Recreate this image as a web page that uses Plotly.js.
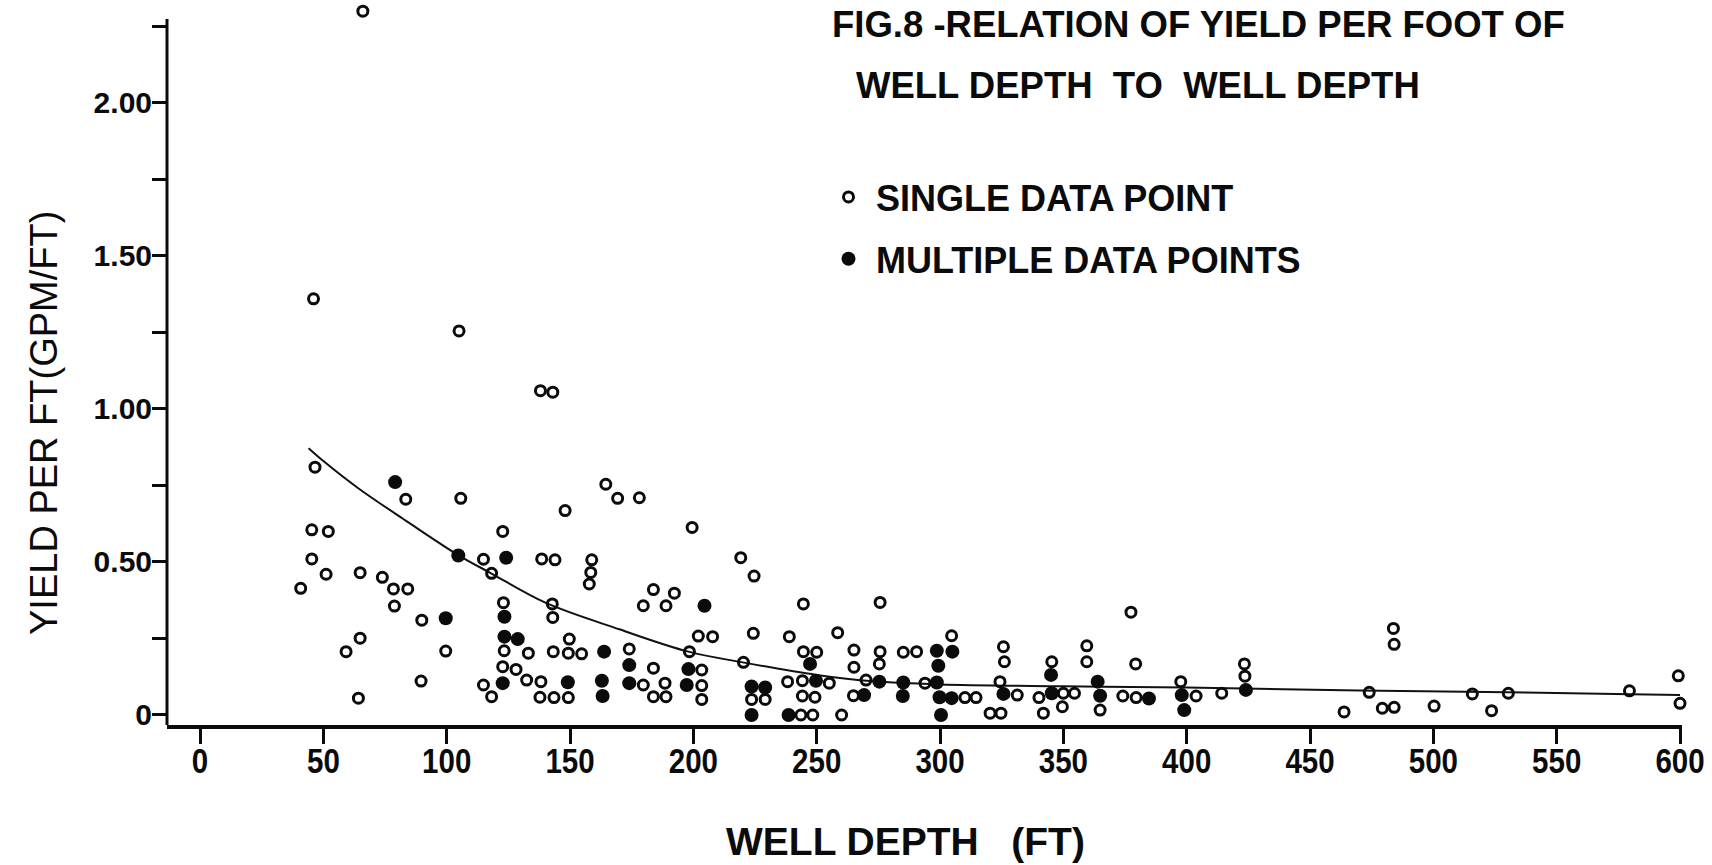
<!DOCTYPE html>
<html>
<head>
<meta charset="utf-8">
<script src="https://cdn.plot.ly/plotly-3.0.1.min.js"></script>
<style>
  html, body { margin: 0; padding: 0; background: #ffffff; }
  #chart { width: 1712px; height: 865px; }
</style>
</head>
<body>
<div id="chart"></div>
<script>
// Wells represented by a single data point: depth (ft) and yield per foot (gpm/ft)
const singleDepth = [
  66, 46, 105, 138, 143,
  46.6, 83.4, 105.7, 45.3, 52, 122.7, 45.3, 51.1, 40.8, 64.9, 73.9, 78.4, 84.2, 78.8, 89.9,
  99.6, 64.9, 59.2, 64.2, 89.6, 114.9, 118.2, 123, 123.3, 133.1, 122.7, 128.1, 132.4, 138.2,
  114.9, 118.2, 137.8, 143.5, 138.5, 143.9, 142.8, 143, 143.2,
  148, 164.5, 169.3, 178.1, 199.5, 158.8, 158.4, 157.8, 183.8, 192.3, 179.7, 188.9, 219.2,
  224.6, 244.6, 275.7, 202, 207.8, 224.3, 238.9, 258.5, 304.7, 149.7, 149.3, 154.7, 174,
  183.8, 203.4, 198.4, 220.3, 244.6, 250, 265.1, 265.1, 275.7, 275.4, 285.1, 290.5, 149.3,
  179.7, 188.5, 183.8, 188.9, 203.4, 203.4, 223.6, 229.1, 238.2, 244.2, 244.2, 249.3, 243.6,
  248.4, 260.1, 255.1, 270, 264.9, 293.9,
  325.7, 326.1, 345.3, 359.5, 359.5, 377.4, 379.3, 397.6, 423.4, 423.6, 324.3, 331.3, 310.1,
  314.6, 320.3, 324.7, 340.1, 341.9, 349.6, 350, 354.5, 364.9, 374.1, 379.5, 403.8, 414.2, 463.8,
  483.8, 484.1, 474, 479.3, 484.1, 500.3, 515.8, 523.6, 530.4, 579.5, 599.3, 600
];
const singleYield = [
  2.30, 1.36, 1.255, 1.06, 1.055,
  0.81, 0.705, 0.708, 0.605, 0.60, 0.60, 0.51, 0.46, 0.414, 0.465, 0.45, 0.412, 0.412, 0.356, 0.31,
  0.209, 0.251, 0.207, 0.055, 0.111, 0.509, 0.463, 0.367, 0.21, 0.202, 0.158, 0.149, 0.114, 0.109,
  0.098, 0.06, 0.058, 0.057, 0.51, 0.507, 0.363, 0.319, 0.207,
  0.668, 0.754, 0.708, 0.71, 0.613, 0.507, 0.466, 0.428, 0.41, 0.398, 0.357, 0.357, 0.514,
  0.454, 0.363, 0.368, 0.258, 0.256, 0.267, 0.256, 0.269, 0.259, 0.248, 0.202, 0.20, 0.216,
  0.153, 0.147, 0.207, 0.172, 0.207, 0.205, 0.212, 0.156, 0.207, 0.167, 0.205, 0.207, 0.057,
  0.098, 0.104, 0.06, 0.06, 0.096, 0.051, 0.051, 0.051, 0.109, 0.112, 0.062, 0.058, 0.0,
  0.0, 0.0, 0.104, 0.114, 0.063, 0.104,
  0.223, 0.174, 0.174, 0.226, 0.174, 0.336, 0.167, 0.109, 0.167, 0.127, 0.109, 0.065, 0.057,
  0.057, 0.006, 0.006, 0.057, 0.006, 0.027, 0.071, 0.071, 0.016, 0.062, 0.057, 0.062, 0.071, 0.01,
  0.283, 0.231, 0.074, 0.022, 0.025, 0.029, 0.069, 0.014, 0.071, 0.079, 0.128, 0.038
];

// Wells represented by multiple data points
const multiDepth = [
  79.1, 104.7, 124.1, 99.6, 123.4, 123.4, 128.8, 122.7,
  204.5, 163.8, 174, 149.1, 162.9, 163.2, 174, 198, 197.3, 223.6, 229.1, 223.6, 238.6, 247.3,
  249.7, 269.2, 275.4, 285.1, 284.9, 298.7, 305, 299.3, 298.7, 299.8, 304.7, 300.4,
  325.7, 345, 345.3, 363.9, 364.9, 384.7, 398, 399, 424
];
const multiYield = [
  0.761, 0.521, 0.514, 0.316, 0.321, 0.256, 0.248, 0.104,
  0.357, 0.207, 0.163, 0.107, 0.112, 0.062, 0.104, 0.15, 0.098, 0.093, 0.09, 0.0, 0.0, 0.167,
  0.112, 0.065, 0.109, 0.106, 0.062, 0.21, 0.207, 0.161, 0.106, 0.058, 0.055, 0.0,
  0.069, 0.131, 0.071, 0.109, 0.063, 0.054, 0.065, 0.016, 0.082
];

// Fitted relation curve, read along its length
const curveDepth = [44, 50, 64, 84, 105, 118, 140, 170, 198, 220, 250, 273, 300, 350, 400, 470, 530, 580, 600];
const curveYield = [0.872, 0.83, 0.742, 0.632, 0.521, 0.463, 0.367, 0.28, 0.207, 0.172, 0.131, 0.11, 0.10, 0.094, 0.09, 0.08, 0.074, 0.068, 0.065];

// Axis ticks
const xTickVals = [0, 50, 100, 150, 200, 250, 300, 350, 400, 450, 500, 550, 600];
const xTickText = ['0', '50', '100', '150', '200', '250', '300', '350', '400', '450', '500', '550', '600'];
const yTickVals = [0, 0.25, 0.5, 0.75, 1.0, 1.25, 1.5, 1.75, 2.0, 2.25];
const yTickText = ['0', '', '0.50', '', '1.00', '', '1.50', '', '2.00', ''];

// Drawn extent of the vertical axis line
const yAxisBottom = -0.0327;
const yAxisTop = 2.2745;

const BOLD = 'Liberation Sans, Arial, Helvetica, sans-serif';
const NB = '\u00a0';
const INK = '#0b0b0b';

const traces = [
  {
    x: curveDepth, y: curveYield,
    mode: 'lines', type: 'scatter',
    line: { color: '#111', width: 2, shape: 'spline', smoothing: 1 },
    showlegend: false, hoverinfo: 'skip'
  },
  {
    x: singleDepth, y: singleYield,
    name: 'SINGLE DATA POINT',
    mode: 'markers', type: 'scatter',
    legendgroup: 'single',
    cliponaxis: false,
    marker: { symbol: 'circle-open', size: 10, color: INK, line: { width: 3, color: INK } }
  },
  {
    x: multiDepth, y: multiYield,
    name: 'MULTIPLE DATA POINTS',
    mode: 'markers', type: 'scatter',
    legendgroup: 'multi',
    cliponaxis: false,
    marker: { symbol: 'circle', size: 14, color: INK, line: { width: 0 } }
  }
];

const layout = {
  width: 1712, height: 865,
  paper_bgcolor: '#ffffff', plot_bgcolor: '#ffffff',
  margin: { l: 167, r: 30, t: 5, b: 140, pad: 0 },
  showlegend: true,
  title: {
    text: 'FIG.8 -RELATION OF YIELD PER FOOT OF',
    font: { family: BOLD, size: 36.5, weight: 700, color: INK },
    xref: 'container', yref: 'container',
    x: 832 / 1712, xanchor: 'left',
    y: 1 - 24 / 865, yanchor: 'middle'
  },
  legend: {
    x: (821 - 167) / 1515, xanchor: 'left',
    y: (725 - 167) / 720, yanchor: 'top',
    bgcolor: 'rgba(0,0,0,0)', borderwidth: 0,
    font: { family: BOLD, size: 36, weight: 700, color: INK },
    tracegroupgap: 12,
    itemwidth: 45,
    itemsizing: 'trace'
  },
  xaxis: {
    range: [-13.4, 600.8],
    showgrid: false, zeroline: false,
    showline: true, linecolor: INK, linewidth: 4,
    ticks: 'outside', ticklen: 15, tickwidth: 3, tickcolor: INK,
    tickmode: 'array', tickvals: xTickVals, ticktext: xTickText,
    tickfont: { family: BOLD, size: 36, weight: 700, color: INK },
    ticklabeloverflow: 'allow',
    ticklabelstandoff: -14,
    automargin: false, fixedrange: true
  },
  yaxis: {
    range: [yAxisBottom, 2.3202],
    showgrid: false, zeroline: false,
    showline: false,
    ticks: 'outside', ticklen: 14, tickwidth: 3, tickcolor: INK,
    tickmode: 'array', tickvals: yTickVals, ticktext: yTickText,
    tickfont: { family: BOLD, size: 30, weight: 700, color: INK },
    ticklabelstandoff: -6,
    automargin: false, fixedrange: true
  },
  shapes: [
    {
      type: 'line', xref: 'paper', yref: 'y',
      x0: 0, x1: 0, y0: yAxisBottom, y1: yAxisTop,
      line: { color: INK, width: 3 }
    }
  ],
  annotations: [
    {
      text: 'WELL DEPTH' + NB + NB + 'TO' + NB + NB + 'WELL DEPTH',
      xref: 'paper', yref: 'paper',
      x: (854 - 167) / 1515, xanchor: 'left',
      y: (725 - 85) / 720, yanchor: 'middle',
      showarrow: false,
      font: { family: BOLD, size: 36.5, weight: 700, color: INK }
    },
    {
      // horizontal axis title
      text: 'WELL DEPTH' + NB + NB + NB + '(FT)',
      xref: 'paper', yref: 'paper',
      x: (905 - 167) / 1515, xanchor: 'center',
      y: (725 - 841) / 720, yanchor: 'middle',
      showarrow: false,
      font: { family: BOLD, size: 39, weight: 700, color: INK }
    },
    {
      // vertical axis title
      text: 'YIELD PER FT(GPM/FT)',
      xref: 'paper', yref: 'paper',
      x: (44 - 167) / 1515, xanchor: 'center',
      y: (725 - 423) / 720, yanchor: 'middle',
      textangle: -90,
      showarrow: false,
      font: { family: BOLD, size: 38, color: INK }
    }
  ]
};

Plotly.newPlot('chart', traces, layout, { displayModeBar: false, staticPlot: true }).then(function (gd) {
  // Depth labels are set in a tall, condensed style
  gd.querySelectorAll('.xtick text').forEach(function (el) {
    const t = el.getAttribute('transform') || '';
    el.setAttribute('transform', t + ' scale(0.82,1)');
  });
});
</script>
</body>
</html>
